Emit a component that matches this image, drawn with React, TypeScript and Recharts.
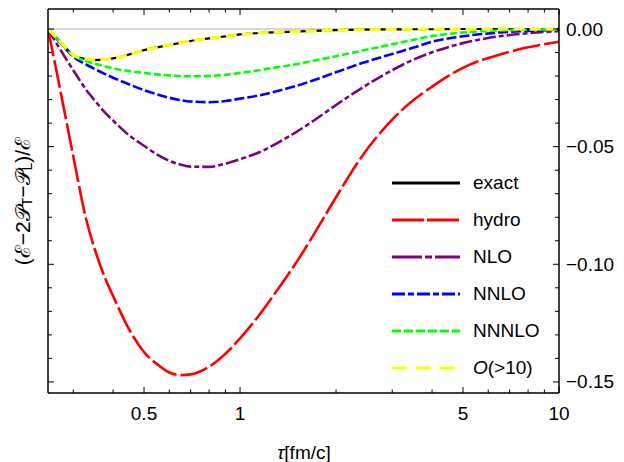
import { LineChart, Line, XAxis, YAxis, ReferenceLine, Legend } from 'recharts';

// tau grid [fm/c]
const tau = [0.25, 0.27, 0.3, 0.33, 0.35, 0.38, 0.4, 0.45, 0.5, 0.55, 0.6, 0.65, 0.7, 0.8, 0.9, 1, 1.15, 1.3, 1.5, 1.7, 2, 2.4, 3, 3.5, 4, 5, 6.5, 8, 10];

const exact = [0, -0.0047, -0.011, -0.0128, -0.0132, -0.013, -0.0125, -0.0108, -0.009, -0.0078, -0.0068, -0.0059, -0.0051, -0.004, -0.0031, -0.0023, -0.0017, -0.0013, -0.0011, -0.0008, -0.0005, -0.0003, -0.0002, -0.0001, -0.0001, 0, 0, 0, 0];
const hydro = [0, -0.0225, -0.054, -0.0814, -0.0934, -0.1068, -0.1135, -0.1279, -0.1373, -0.1425, -0.146, -0.1471, -0.1468, -0.1435, -0.138, -0.1315, -0.1215, -0.1115, -0.0993, -0.0875, -0.0715, -0.0545, -0.0385, -0.0302, -0.0245, -0.0165, -0.0109, -0.0078, -0.0054];
const nlo = [0, -0.0076, -0.0175, -0.026, -0.0303, -0.036, -0.0389, -0.0453, -0.0496, -0.0534, -0.056, -0.0576, -0.0585, -0.0586, -0.0572, -0.0553, -0.0524, -0.0487, -0.0438, -0.039, -0.0323, -0.0252, -0.0175, -0.013, -0.0099, -0.006, -0.0031, -0.0018, -0.0009];
const nnlo = [0, -0.005, -0.0118, -0.0152, -0.017, -0.0193, -0.0207, -0.0236, -0.026, -0.0278, -0.0292, -0.0302, -0.0308, -0.0311, -0.0306, -0.0296, -0.0282, -0.0265, -0.0242, -0.0218, -0.0184, -0.0146, -0.0106, -0.0079, -0.0054, -0.0031, -0.0015, -0.0008, -0.0003];
const nnnlo = [0, -0.0048, -0.0113, -0.0137, -0.0147, -0.016, -0.0168, -0.0179, -0.0187, -0.0193, -0.0197, -0.02, -0.0201, -0.02, -0.0195, -0.0187, -0.0175, -0.0163, -0.015, -0.0135, -0.0116, -0.0093, -0.0065, -0.0046, -0.003, -0.0015, -0.0006, -0.0003, -0.0001];
const oAbove10 = [0, -0.0047, -0.011, -0.0128, -0.0132, -0.013, -0.0125, -0.0108, -0.009, -0.0078, -0.0068, -0.0059, -0.0051, -0.004, -0.0031, -0.0023, -0.0017, -0.0013, -0.0011, -0.0008, -0.0005, -0.0003, -0.0002, -0.0001, -0.0001, 0, 0, 0, 0];

const X_TICKS = [0.3, 0.4, 0.5, 0.6, 0.7, 0.8, 0.9, 1, 2, 3, 4, 5, 6, 7, 8, 9, 10];
const X_MAJOR = [0.5, 1, 5, 10];
const Y_TICKS = [0, -0.01, -0.02, -0.03, -0.04, -0.05, -0.06, -0.07, -0.08, -0.09, -0.1, -0.11, -0.12, -0.13, -0.14, -0.15];

const data = tau.map((t, i) => ({
  tau: t,
  exact: exact[i],
  hydro: hydro[i],
  nlo: nlo[i],
  nnlo: nnlo[i],
  nnnlo: nnnlo[i],
  oAbove10: oAbove10[i],
}));

const SERIES = [
  { key: 'exact', color: '#000000', width: 2.2, dash: undefined, legendDash: undefined },
  { key: 'hydro', color: '#ff0000', width: 2.6, dash: '28 4', legendDash: '32 3' },
  { key: 'nlo', color: '#800080', width: 2.6, dash: '13 3 5 3', legendDash: '30 3 7 3' },
  { key: 'nnlo', color: '#0000ff', width: 2.6, dash: '10 3', legendDash: '13 3 6 3' },
  { key: 'nnnlo', color: '#00ff00', width: 2.6, dash: '7 3', legendDash: '9 3' },
  { key: 'oAbove10', color: '#ffff00', width: 3, dash: '11 5', legendDash: '15 9' },
];

const FONT = '"Liberation Sans", Arial, sans-serif';
const Y_DOMAIN = [-0.1547, 0.0085];
const isMajorY = (v: number) => Math.abs(Math.round(v * 100)) % 5 === 0;
const fmtY = (v: number) => (v === 0 ? '0.00' : '\u2212' + Math.abs(v).toFixed(2));

const BottomTick = (props: any) => {
  const { x, y, payload } = props;
  const major = X_MAJOR.includes(payload.value);
  return (
    <g>
      <line x1={x} x2={x} y1={y} y2={y - (major ? 6 : 3.5)} stroke="#000" />
      {major ? (
        <text x={x} y={y + 20} textAnchor="middle" dominantBaseline="central" fontSize={19} fontFamily={FONT} fill="#000">
          {payload.value}
        </text>
      ) : null}
    </g>
  );
};

const TopTick = (props: any) => {
  const { x, y, payload } = props;
  const major = X_MAJOR.includes(payload.value);
  return <line x1={x} x2={x} y1={y} y2={y + (major ? 6 : 3.5)} stroke="#000" />;
};

const RightTick = (props: any) => {
  const { x, y, payload } = props;
  const major = isMajorY(payload.value);
  return (
    <g>
      <line x1={x} x2={x - (major ? 6 : 4)} y1={y} y2={y} stroke="#000" />
      {major ? (
        <text x={x + 7} y={y} textAnchor="start" dominantBaseline="central" fontSize={19} fontFamily={FONT} fill="#000">
          {fmtY(payload.value)}
        </text>
      ) : null}
    </g>
  );
};

const LeftTick = (props: any) => {
  const { x, y, payload } = props;
  const major = isMajorY(payload.value);
  return <line x1={x} x2={x + (major ? 6 : 4)} y1={y} y2={y} stroke="#000" />;
};

const XTitle = () => (
  <text x={304} y={452} textAnchor="middle" dominantBaseline="central" fontSize={19} fontFamily={FONT} fill="#000">
    <tspan fontStyle="italic">τ</tspan>[fm/c]
  </text>
);

const YTitle = () => (
  <text
    x={22}
    y={201}
    transform="rotate(-90, 22, 201)"
    textAnchor="middle"
    dominantBaseline="central"
    fontSize={21}
    fontFamily={FONT}
    fill="#000"
  >
    (ℰ−2𝒫<tspan fontSize={14} dy={5}>T</tspan>
    <tspan dy={-5}>−𝒫</tspan>
    <tspan fontSize={14} dy={5}>L</tspan>
    <tspan dy={-5}>)/ℰ</tspan>
  </text>
);

const LEGEND_LABELS: Record<string, any> = {
  exact: 'exact',
  hydro: 'hydro',
  nlo: 'NLO',
  nnlo: 'NNLO',
  nnnlo: 'NNNLO',
  oAbove10: (
    <>
      <i>O</i>(&gt;10)
    </>
  ),
};

const LegendBox = () => (
  <div style={{ fontFamily: FONT, fontSize: 19, color: '#000' }}>
    {SERIES.map((s) => (
      <div key={s.key} style={{ display: 'flex', alignItems: 'center', height: 37 }}>
        <svg width={68} height={8} style={{ display: 'block' }}>
          <line x1={0} x2={68} y1={4} y2={4} stroke={s.color} strokeWidth={3} strokeDasharray={s.legendDash} />
        </svg>
        <span style={{ marginLeft: 13, lineHeight: '37px' }}>{LEGEND_LABELS[s.key]}</span>
      </div>
    ))}
  </div>
);

export default function App() {
  return (
    <div style={{ position: 'absolute', left: 0, top: 0, width: 624, height: 462, background: '#fff' }}>
      <LineChart width={624} height={462} data={data} margin={{ top: 8, right: 0, bottom: 0, left: 47 }}>
        <XAxis
          dataKey="tau"
          type="number"
          scale="log"
          domain={[0.25, 10]}
          allowDataOverflow
          ticks={X_TICKS}
          interval={0}
          height={69}
          tickLine={false}
          tickSize={0}
          tickMargin={0}
          axisLine={{ stroke: '#000', strokeWidth: 1.5 }}
          tick={<BottomTick />}
          label={<XTitle />}
        />
        <XAxis
          xAxisId="top"
          orientation="top"
          dataKey="tau"
          type="number"
          scale="log"
          domain={[0.25, 10]}
          allowDataOverflow
          ticks={X_TICKS}
          interval={0}
          height={1}
          tickLine={false}
          tickSize={0}
          tickMargin={0}
          axisLine={{ stroke: '#000', strokeWidth: 1.5 }}
          tick={<TopTick />}
        />
        <YAxis
          orientation="right"
          type="number"
          domain={Y_DOMAIN}
          allowDataOverflow
          ticks={Y_TICKS}
          interval={0}
          width={65}
          tickLine={false}
          tickSize={0}
          tickMargin={0}
          axisLine={{ stroke: '#000', strokeWidth: 1.5 }}
          tick={<RightTick />}
          label={<YTitle />}
        />
        <YAxis
          yAxisId="left"
          orientation="left"
          type="number"
          domain={Y_DOMAIN}
          allowDataOverflow
          ticks={Y_TICKS}
          interval={0}
          width={1}
          tickLine={false}
          tickSize={0}
          tickMargin={0}
          axisLine={{ stroke: '#000', strokeWidth: 1.5 }}
          tick={<LeftTick />}
        />
        <ReferenceLine y={0} stroke="#c8c8c8" strokeWidth={1.5} />
        {SERIES.map((s) => (
          <Line
            key={s.key}
            dataKey={s.key}
            type="monotone"
            stroke={s.color}
            strokeWidth={s.width}
            strokeDasharray={s.dash}
            dot={false}
            activeDot={false}
            isAnimationActive={false}
          />
        ))}
        <Legend
          layout="vertical"
          align="center"
          verticalAlign="middle"
          content={() => <LegendBox />}
          wrapperStyle={{ left: 392, top: 164, width: 200, height: 222 }}
        />
      </LineChart>
    </div>
  );
}
